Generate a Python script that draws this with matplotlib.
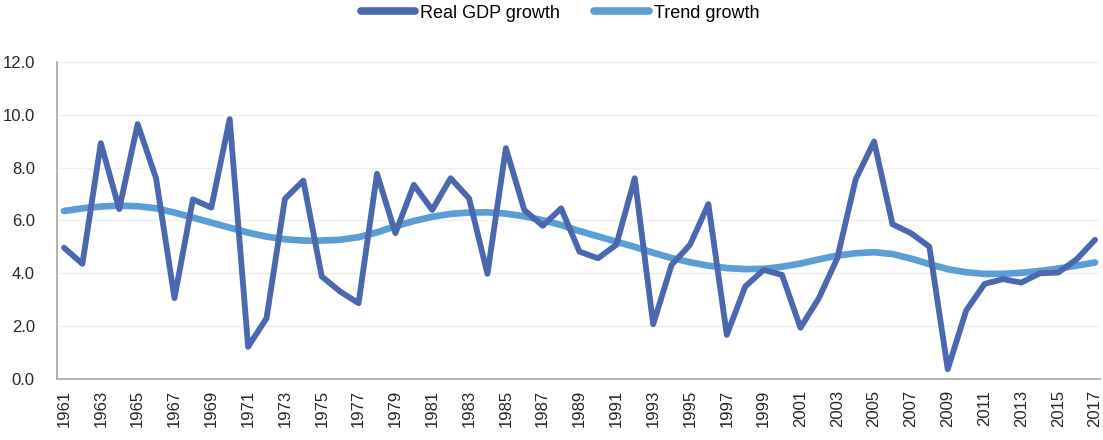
import matplotlib
matplotlib.use("Agg")
import matplotlib.pyplot as plt
import numpy as np

years = list(range(1961, 2018))
real_gdp = [4.97, 4.36, 8.93, 6.43, 9.65, 7.60, 3.06, 6.80, 6.49, 9.84,
            1.22, 2.30, 6.82, 7.51, 3.88, 3.31, 2.87, 7.77, 5.52, 7.35,
            6.40, 7.60, 6.84, 3.98, 8.74, 6.40, 5.80, 6.46, 4.82, 4.57,
            5.08, 7.60, 2.07, 4.32, 5.08, 6.62, 1.67, 3.50, 4.13, 3.94,
            1.94, 3.06, 4.57, 7.56, 8.99, 5.86, 5.52, 5.01, 0.37, 2.59,
            3.60, 3.78, 3.65, 4.00, 4.03, 4.53, 5.27]
trend = [6.36, 6.46, 6.53, 6.56, 6.54, 6.46, 6.30, 6.11, 5.92, 5.73,
         5.54, 5.39, 5.29, 5.24, 5.24, 5.27, 5.37, 5.55, 5.78, 5.98,
         6.14, 6.25, 6.30, 6.31, 6.26, 6.16, 6.01, 5.83, 5.60, 5.40,
         5.20, 5.00, 4.78, 4.58, 4.42, 4.29, 4.20, 4.16, 4.17, 4.25,
         4.37, 4.53, 4.67, 4.76, 4.80, 4.73, 4.56, 4.35, 4.16, 4.04,
         3.98, 3.98, 4.02, 4.09, 4.18, 4.29, 4.41]
yticks = [0, 2, 4, 6, 8, 10, 12]

fig = plt.figure(figsize=(11.03, 4.40), dpi=100)
ax = fig.add_axes([57/1103, 1 - 379/440, (1100-57)/1103, (379-62)/440])

ax.plot(years, real_gdp, color="#4A67AF", lw=4.2, label="Real GDP growth",
        solid_joinstyle="round", solid_capstyle="round", zorder=3)
ax.plot(years, trend, color="#5B9DD5", lw=4.8, label="Trend growth",
        solid_joinstyle="round", solid_capstyle="round", zorder=2)

ax.set_ylim(0, 12)
ax.set_xlim(1960.62, 2017.27)
ax.set_yticks(yticks)
ax.set_yticklabels([f"{v:.1f}" for v in yticks])
ax.set_xticks(years[::2])
ax.set_xticklabels([str(y) for y in years[::2]], rotation=90)
ax.grid(axis="y", color="#efefef", lw=1)
ax.set_axisbelow(True)

for s in ["top", "right"]:
    ax.spines[s].set_visible(False)
for s in ["left", "bottom"]:
    ax.spines[s].set_color("#a6a6a6")
    ax.spines[s].set_linewidth(1.2)

ax.tick_params(axis="both", length=0, labelsize=12, colors="#262626",
               labelfontfamily="Liberation Sans")
ax.tick_params(axis="y", pad=16)
ax.tick_params(axis="x", pad=8)

leg = fig.legend(loc="center", bbox_to_anchor=(560/1103, 1 - 13/440), ncol=2,
                 frameon=False, handlelength=3.0, handletextpad=0.3,
                 columnspacing=1.9, prop={"family": "Liberation Sans", "size": 13})
for h in leg.get_lines():
    h.set_linewidth(5.5)
    h.set_solid_capstyle("round")

fig.savefig("out.png", dpi=100)
